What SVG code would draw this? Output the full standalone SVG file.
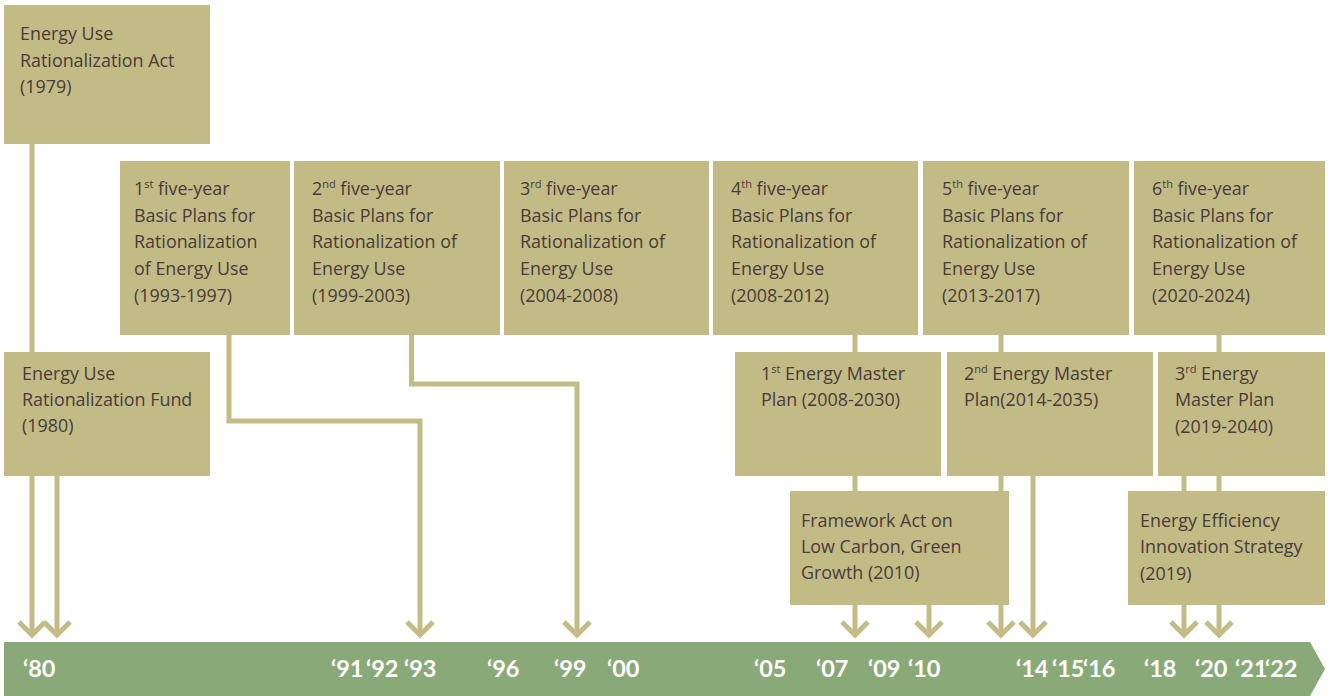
<svg xmlns="http://www.w3.org/2000/svg" width="1330" height="696" viewBox="0 0 1330 696">
<style>
.box{fill:#c2bb86}
.t{font-family:"Open Sans","Noto Sans","Liberation Sans",sans-serif;font-size:17.9px;fill:#4a3a3a;font-variant-ligatures:none}
.sup{font-size:11px}
.conn{fill:none;stroke:#c3bc87;stroke-width:5;stroke-linejoin:miter}
.yr{font-family:Lato,"Liberation Sans",sans-serif;font-weight:700;font-size:23.5px;fill:#ffffff}
</style>
<defs>
<marker id="chev" markerUnits="userSpaceOnUse" markerWidth="40" markerHeight="40" viewBox="-20 -20 40 40" refX="0" refY="0" orient="auto" overflow="visible">
<path d="M-13,-13 L0,0 L-13,13" fill="none" stroke="#c3bc87" stroke-width="5" stroke-linejoin="miter"/>
</marker>
</defs>
<rect width="1330" height="696" fill="#ffffff"/>
<g id="connectors">
<path class="conn" marker-end="url(#chev)" d="M32,143 V635"/>
<path class="conn" marker-end="url(#chev)" d="M57,476 V635"/>
<path class="conn" marker-end="url(#chev)" d="M229,335 V421 H420 V635"/>
<path class="conn" marker-end="url(#chev)" d="M411.5,335 V384 H577 V635"/>
<path class="conn" marker-end="url(#chev)" d="M855,335 V635"/>
<path class="conn" marker-end="url(#chev)" d="M929,605 V635"/>
<path class="conn" marker-end="url(#chev)" d="M1001,335 V635"/>
<path class="conn" marker-end="url(#chev)" d="M1033,476 V635"/>
<path class="conn" marker-end="url(#chev)" d="M1184,476 V635"/>
<path class="conn" marker-end="url(#chev)" d="M1219,335 V635"/>
</g>
<g id="act1979">
<rect class="box" x="4" y="5" width="206" height="139"/>
<text class="t" x="20" y="40">Energy Use</text>
<text class="t" x="20" y="67">Rationalization Act</text>
<text class="t" x="20" y="93">(1979)</text>
</g>
<g id="plan1">
<rect class="box" x="120" y="161" width="170" height="174"/>
<text class="t" x="134" y="195">1<tspan class="sup" dy="-7">st</tspan><tspan dy="7"> five-year</tspan></text>
<text class="t" x="134" y="222">Basic Plans for</text>
<text class="t" x="134" y="248">Rationalization</text>
<text class="t" x="134" y="275">of Energy Use</text>
<text class="t" x="134" y="302">(1993-1997)</text>
</g>
<g id="plan2">
<rect class="box" x="294" y="161" width="206" height="174"/>
<text class="t" x="312" y="195">2<tspan class="sup" dy="-7">nd</tspan><tspan dy="7"> five-year</tspan></text>
<text class="t" x="312" y="222">Basic Plans for</text>
<text class="t" x="312" y="248">Rationalization of</text>
<text class="t" x="312" y="275">Energy Use</text>
<text class="t" x="312" y="302">(1999-2003)</text>
</g>
<g id="plan3">
<rect class="box" x="504" y="161" width="205" height="174"/>
<text class="t" x="520" y="195">3<tspan class="sup" dy="-7">rd</tspan><tspan dy="7"> five-year</tspan></text>
<text class="t" x="520" y="222">Basic Plans for</text>
<text class="t" x="520" y="248">Rationalization of</text>
<text class="t" x="520" y="275">Energy Use</text>
<text class="t" x="520" y="302">(2004-2008)</text>
</g>
<g id="plan4">
<rect class="box" x="713" y="161" width="205" height="174"/>
<text class="t" x="731" y="195">4<tspan class="sup" dy="-7">th</tspan><tspan dy="7"> five-year</tspan></text>
<text class="t" x="731" y="222">Basic Plans for</text>
<text class="t" x="731" y="248">Rationalization of</text>
<text class="t" x="731" y="275">Energy Use</text>
<text class="t" x="731" y="302">(2008-2012)</text>
</g>
<g id="plan5">
<rect class="box" x="923" y="161" width="206" height="174"/>
<text class="t" x="942" y="195">5<tspan class="sup" dy="-7">th</tspan><tspan dy="7"> five-year</tspan></text>
<text class="t" x="942" y="222">Basic Plans for</text>
<text class="t" x="942" y="248">Rationalization of</text>
<text class="t" x="942" y="275">Energy Use</text>
<text class="t" x="942" y="302">(2013-2017)</text>
</g>
<g id="plan6">
<rect class="box" x="1134" y="161" width="191" height="174"/>
<text class="t" x="1152" y="195">6<tspan class="sup" dy="-7">th</tspan><tspan dy="7"> five-year</tspan></text>
<text class="t" x="1152" y="222">Basic Plans for</text>
<text class="t" x="1152" y="248">Rationalization of</text>
<text class="t" x="1152" y="275">Energy Use</text>
<text class="t" x="1152" y="302">(2020-2024)</text>
</g>
<g id="fund1980">
<rect class="box" x="4" y="352" width="206" height="124"/>
<text class="t" x="22" y="380">Energy Use</text>
<text class="t" x="22" y="406">Rationalization Fund</text>
<text class="t" x="22" y="432">(1980)</text>
</g>
<g id="master1">
<rect class="box" x="735" y="352" width="206" height="124"/>
<text class="t" x="761" y="380">1<tspan class="sup" dy="-7">st</tspan><tspan dy="7"> Energy Master</tspan></text>
<text class="t" x="761" y="406">Plan (2008-2030)</text>
</g>
<g id="master2">
<rect class="box" x="947" y="352" width="206" height="124"/>
<text class="t" x="964" y="380">2<tspan class="sup" dy="-7">nd</tspan><tspan dy="7"> Energy Master</tspan></text>
<text class="t" x="964" y="406">Plan(2014-2035)</text>
</g>
<g id="master3">
<rect class="box" x="1158" y="352" width="167" height="124"/>
<text class="t" x="1175" y="380">3<tspan class="sup" dy="-7">rd</tspan><tspan dy="7"> Energy</tspan></text>
<text class="t" x="1175" y="406">Master Plan</text>
<text class="t" x="1175" y="433">(2019-2040)</text>
</g>
<g id="framework">
<rect class="box" x="790" y="491" width="219" height="114"/>
<text class="t" x="801" y="527">Framework Act on</text>
<text class="t" x="801" y="553">Low Carbon, Green</text>
<text class="t" x="801" y="579">Growth (2010)</text>
</g>
<g id="efficiency">
<rect class="box" x="1128" y="491" width="197" height="114"/>
<text class="t" x="1140" y="527">Energy Efficiency</text>
<text class="t" x="1140" y="553">Innovation Strategy</text>
<text class="t" x="1140" y="580">(2019)</text>
</g>
<g id="timeline">
<polygon points="4,642 1310,642 1325,669 1310,696 4,696" fill="#8aa978"/>
<text class="yr" x="23" y="677">‘80</text>
<text class="yr" x="331" y="677">‘91</text>
<text class="yr" x="366" y="677">‘92</text>
<text class="yr" x="404" y="677">‘93</text>
<text class="yr" x="487" y="677">‘96</text>
<text class="yr" x="554" y="677">‘99</text>
<text class="yr" x="607" y="677">‘00</text>
<text class="yr" x="754" y="677">‘05</text>
<text class="yr" x="816" y="677">‘07</text>
<text class="yr" x="868" y="677">‘09</text>
<text class="yr" x="908" y="677">‘10</text>
<text class="yr" x="1016" y="677">‘14</text>
<text class="yr" x="1052" y="677">‘15</text>
<text class="yr" x="1083" y="677">‘16</text>
<text class="yr" x="1144" y="677">‘18</text>
<text class="yr" x="1195" y="677">‘20</text>
<text class="yr" x="1235" y="677">‘21</text>
<text class="yr" x="1265" y="677">‘22</text>
</g>
</svg>
